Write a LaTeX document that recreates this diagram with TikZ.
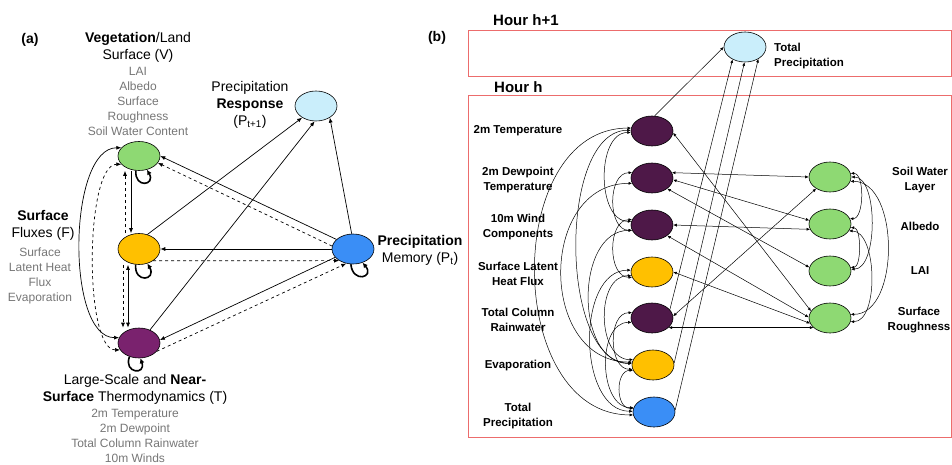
\documentclass[tikz,border=0pt]{standalone}
\usepackage{fontspec}
\setmainfont{Liberation Sans}
\usepackage{tikz}
\usetikzlibrary{arrows.meta,shapes.geometric}
\definecolor{vegcol}{RGB}{142,217,115}
\definecolor{fluxcol}{RGB}{255,192,0}
\definecolor{thermcol}{RGB}{122,34,110}
\definecolor{darkcol}{RGB}{78,24,72}
\definecolor{respcol}{RGB}{202,238,251}
\definecolor{memcol}{RGB}{58,142,246}
\definecolor{varcol}{RGB}{118,118,118}
\definecolor{hourcol}{RGB}{236,108,108}
\newcommand{\gscale}{1}
\newcommand{\ew}{42pt}
\newcommand{\eh}{30pt}
\newcommand{\labfont}{\fontsize{14}{17}\selectfont}
\newcommand{\varfont}{\fontsize{12}{15}\selectfont}
\newcommand{\colfont}{\fontsize{11.5}{15}\selectfont\bfseries}

\begin{document}
\begin{tikzpicture}[x=\gscale pt, y=\gscale pt]
        \tikzset{
            Var/.style = {ellipse, draw=black, line width=0.6pt, minimum width=\ew, minimum height=\eh, inner sep=0pt},
            Lab/.style = {align=center, inner sep=0pt, font=\labfont},
            VarLab/.style = {align=center, inner sep=0pt, font=\varfont, text=varcol},
            ColLab/.style = {align=center, inner sep=0pt, font=\colfont},
            Edge/.style = {line width=0.7pt, -{Latex[length=5pt,width=4pt]}},
            Link/.style = {line width=0.5pt, {Latex[length=3.5pt,width=3pt]}-{Latex[length=3.5pt,width=3pt]}},
            OneLink/.style = {line width=0.5pt, -{Latex[length=3.5pt,width=3pt]}},
            SelfLoop/.style = {line width=1.6pt, -{Latex[length=5pt,width=5pt]}},
            HourBox/.style = {draw=hourcol, line width=1pt}
        }
        \useasboundingbox (0,0) rectangle (952,-465);
        
        \node[font=\labfont\bfseries, inner sep=0pt] (pa) at (30,-40) {(a)};
        \node[font=\labfont\bfseries, inner sep=0pt] (pb) at (437,-38) {(b)};
        
        \node[Var, fill=vegcol, minimum height=29pt] (V) at (139,-156) {};
        \node[Var, fill=fluxcol, minimum height=31pt] (F) at (139,-249) {};
        \node[Var, fill=thermcol, minimum height=30pt] (T) at (139,-343) {};
        \node[Var, fill=respcol, minimum height=30pt] (Pr) at (316,-106) {};
        \node[Var, fill=memcol, minimum height=30pt] (Pm) at (353,-249) {};
        
        \node[Lab] (vlab) at (138,-47) {\textbf{Vegetation}/Land\\Surface (V)};
        \node[VarLab] (vvar) at (138,-101.5) {LAI\\Albedo\\Surface\\Roughness\\Soil Water Content};
        \node[Lab] (flab) at (43,-225) {\textbf{Surface}\\Fluxes (F)};
        \node[VarLab] (fvar) at (40,-275.5) {Surface\\Latent Heat\\Flux\\Evaporation};
        \node[Lab] (tlab) at (135,-389.5) {Large-Scale and \textbf{Near-}\\\textbf{Surface} Thermodynamics (T)};
        \node[VarLab] (tvar) at (135,-435.5) {2m Temperature\\2m Dewpoint\\Total Column Rainwater\\10m Winds};
        \node[Lab] (prlab) at (250,-105) {Precipitation\\\textbf{Response}\\(P\textsubscript{t+1})};
        \node[Lab] (pmlab) at (420,-250.5) {\textbf{Precipitation}\\Memory (P\textsubscript{t})};
        
        \draw[Edge] ([xshift=-8pt]V.south) -- ([xshift=-8pt]F.north);
        \draw[Edge, dashed] ([xshift=-14pt]F.north) -- ([xshift=-14pt]V.south);
        \draw[Edge, {Latex[length=5pt,width=4pt]}-{Latex[length=5pt,width=4pt]}] ([xshift=-11pt]F.south) -- ([xshift=-11pt]T.north);
        \draw[Edge, dashed] ([xshift=-16pt]F.south) -- ([xshift=-16pt]T.north);
        
        \draw[Edge, {Latex[length=5pt,width=4pt]}-{Latex[length=5pt,width=4pt]}] (T.165) to[out=180, in=180, looseness=0.72] (V.155);
        \draw[Edge, dashed, {Latex[length=5pt,width=4pt]}-{Latex[length=5pt,width=4pt]}] (T.200) to[out=180, in=180, looseness=0.5] (V.205);
        
        \draw[Edge] (Pm.150) -- (V.east);
        \draw[Edge, dashed] (Pm.172) -- (V.-20);
        \draw[Edge] (Pm.west) -- (F.east);
        \draw[Edge, dashed] (F.-40) -- (Pm.220);
        \draw[Edge] (Pm.205) -- (T.8);
        \draw[Edge, dashed] (T.-25) -- (Pm.245);
        
        \draw[Edge] (F.60) -- (Pr.220);
        \draw[Edge] (T.50) -- (Pr.265);
        \draw[Edge] (Pm.95) -- (Pr.-40);
        
        \draw[SelfLoop] (V.258) to[out=265, in=300, looseness=4.2] (V.300);
        \draw[SelfLoop] (F.258) to[out=265, in=300, looseness=4.2] (F.300);
        \draw[SelfLoop] (T.235) to[out=250, in=290, looseness=4.2] (T.275);
        \draw[SelfLoop] (Pm.262) to[out=275, in=310, looseness=4.2] (Pm.305);
        
        \draw[HourBox] (468,-31) rectangle (951,-77);
        \draw[HourBox] (468,-96) rectangle (951,-437);
        \node[font=\fontsize{15}{18}\selectfont\bfseries, anchor=west, inner sep=0pt] (hnext) at (493,-20) {Hour h+1};
        \node[font=\fontsize{15}{18}\selectfont\bfseries, anchor=west, inner sep=0pt] (hnow) at (494,-87) {Hour h};
        
        \node[Var, fill=respcol] (H) at (745,-47) {};
        \node[ColLab, anchor=west, align=left] (hlab) at (774,-56) {Total\\Precipitation};
        
        \node[Var, fill=darkcol] (n1) at (652,-131) {};
        \node[Var, fill=darkcol] (n2) at (652,-178) {};
        \node[Var, fill=darkcol] (n3) at (652,-225) {};
        \node[Var, fill=fluxcol] (n4) at (652,-272) {};
        \node[Var, fill=darkcol] (n5) at (652,-318) {};
        \node[Var, fill=fluxcol] (n6) at (653,-365) {};
        \node[Var, fill=memcol] (n7) at (654,-412) {};
        
        \node[Var, fill=vegcol] (g1) at (830,-177) {};
        \node[Var, fill=vegcol] (g2) at (830,-224) {};
        \node[Var, fill=vegcol] (g3) at (830,-271) {};
        \node[Var, fill=vegcol] (g4) at (830,-318) {};
        
        \node[ColLab] (l1) at (518,-131) {2m Temperature};
        \node[ColLab] (l2) at (518,-180) {2m Dewpoint\\Temperature};
        \node[ColLab] (l3) at (518,-227) {10m Wind\\Components};
        \node[ColLab] (l4) at (518,-274) {Surface Latent\\Heat Flux};
        \node[ColLab] (l5) at (518,-320) {Total Column\\Rainwater};
        \node[ColLab] (l6) at (518,-366) {Evaporation};
        \node[ColLab] (l7) at (518,-416) {Total\\Precipitation};
        \node[ColLab] (m1) at (920,-180) {Soil Water\\Layer};
        \node[ColLab] (m2) at (920,-226) {Albedo};
        \node[ColLab] (m3) at (920,-271) {LAI};
        \node[ColLab] (m4) at (919,-320) {Surface\\Roughness};
        
        \draw[OneLink] (n1.80) -- (H.west);
        \draw[OneLink] (n5.25) -- (H.225);
        \draw[OneLink] (n6.5) -- (H.268);
        \draw[OneLink] (n7.5) -- (H.-42);
        
        \draw[Link] (n1.-5) -- (g4.160);
        \draw[Link] (n2.15) -- (g1.west);
        \draw[Link] (n2.-5) -- (g2.170);
        \draw[Link] (n2.-35) -- (g3.170);
        \draw[Link] (n3.east) -- (g2.-165);
        \draw[Link] (n3.-35) -- (g4.178);
        \draw[Link] (n4.east) -- (g4.-165);
        \draw[Link] (n5.5) -- (g1.-140);
        \draw[Link] (n5.-30) -- (g4.-150);
        
        \foreach \a/\b/\oa/\ob/\l in {n1/n7/172/188/1.15, n1/n6/178/175/0.8, n1/n3/184/170/1.0, n2/n3/165/195/1.1, n2/n6/195/172/1.35, n3/n4/165/195/1.1, n3/n6/195/176/1.1, n4/n6/190/165/1.1, n4/n7/175/178/1.0, n5/n6/165/192/1.1, n5/n7/192/168/1.05, n6/n7/195/170/1.2}
            \draw[Link] (\a.\oa) to[out=180, in=180, looseness=\l] (\b.\ob);
        
        \foreach \a/\b/\oa/\ob/\l in {g1/g2/10/15/0.8, g1/g3/0/5/0.75, g1/g4/-12/10/0.95, g2/g3/-10/10/0.7, g2/g4/-20/-10/0.8}
            \draw[Link] (\a.\oa) to[out=0, in=0, looseness=\l] (\b.\ob);
        
    \end{tikzpicture}
\end{document}
